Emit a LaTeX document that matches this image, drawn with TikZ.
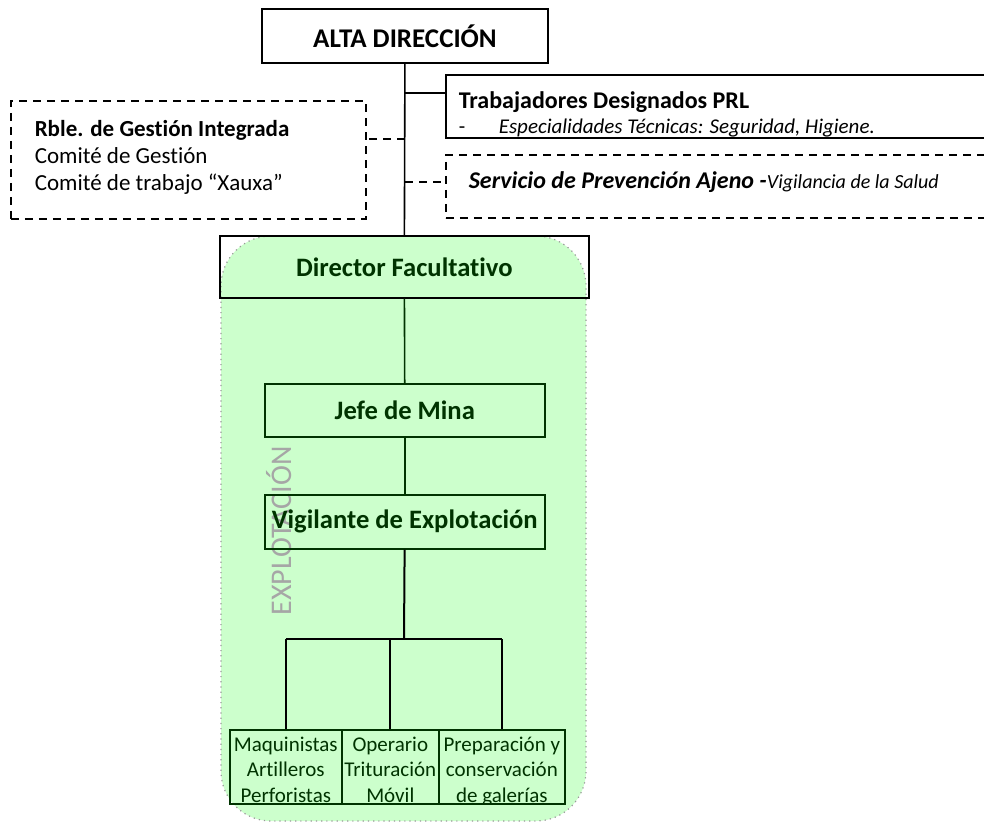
\documentclass[tikz,border=0pt]{standalone}
\usepackage{fontspec}
\setmainfont{Carlito}[Ligatures={NoCommon}]
\usetikzlibrary{positioning}
\definecolor{verdeclaro}{HTML}{CCFFCC}
\definecolor{verdeosc}{HTML}{003300}
\definecolor{grisborde}{HTML}{999999}
\definecolor{gristexto}{HTML}{A6A6A6}
\tikzset{
  caja/.style={draw,inner sep=0pt},
  cajaverde/.style={draw=verdeosc,inner sep=0pt,text=verdeosc,font=\fontsize{13.3}{16}\selectfont\bfseries},
  discont/.style={draw,dash pattern=on 4pt off 3pt,inner sep=0pt},
  rama/.style={draw=verdeosc,inner sep=0pt}
}
\begin{document}
\begin{tikzpicture}[x=0.5pt,y=-0.5pt,line width=0.8pt]
\useasboundingbox (0,0) rectangle (984,825);
% zona de explotacion
\draw[fill=verdeclaro,draw=grisborde,line width=0.6pt,dotted,rounded corners=25pt] (221,236) rectangle (586,821);
\node[text=gristexto,rotate=90,font=\fontsize{15}{17}\selectfont] (zona) at (279,531) {EXPLOTACIÓN};
% cajas
\node[caja,minimum width=143pt,minimum height=27pt,font=\fontsize{13.5}{16}\selectfont\bfseries] (alta) at (405,36) {ALTA DIRECCIÓN};
\node[caja,anchor=north west,minimum width=280pt,minimum height=31.5pt] (trab) at (445,74) {};
\node[discont,anchor=north west,minimum width=177.5pt,minimum height=59pt] (rble) at (10,100) {};
\node[discont,anchor=north west,minimum width=280pt,minimum height=31.5pt] (spa) at (445,154) {};
\node[caja,anchor=north west,minimum width=184.5pt,minimum height=31pt,text=verdeosc,font=\fontsize{13.3}{16}\selectfont\bfseries] (dir) at (219,235) {Director Facultativo};
\node[cajaverde,anchor=north west,minimum width=140pt,minimum height=26.5pt] (jefe) at (264,383) {Jefe de Mina};
\node[cajaverde,anchor=north west,minimum width=140pt,minimum height=27pt] (vig) at (264,494) {Vigilante de Explotación};
\node[rama,anchor=north west,minimum width=56pt,minimum height=37pt] (maq) at (229,729) {};
\node[rama,anchor=north west,minimum width=48.5pt,minimum height=37pt] (ope) at (341,729) {};
\node[rama,anchor=north west,minimum width=63pt,minimum height=37pt] (pre) at (438,729) {};
% textos
\begin{scope}
\clip (trab.south west) rectangle (trab.north east);
\node[anchor=base west,inner sep=0pt,font=\fontsize{12}{14}\selectfont\bfseries] (trabt) at (458,108) {Trabajadores Designados PRL};
\node[anchor=base west,inner sep=0pt,font=\fontsize{10.5}{12}\selectfont] (guion) at (458,133) {-};
\node[anchor=base west,inner sep=0pt,font=\fontsize{10.5}{12}\selectfont\itshape] (espec) at (498,133) {Especialidades Técnicas: Seguridad, Higiene.};
\end{scope}
\node[anchor=north west,align=left,inner sep=0pt,font=\fontsize{11.5}{13.5}\selectfont] (rblet) at (34,120)
  {\textbf{Rble. de Gestión Integrada}\\Comité de Gestión\\Comité de trabajo “Xauxa”};
\node[anchor=base west,inner sep=0pt,font=\fontsize{12}{14}\selectfont] (spat) at (468,188)
  {\textbf{\itshape Servicio de Prevención Ajeno -}{\fontsize{10}{12}\selectfont\itshape Vigilancia de la Salud}};
\begin{scope}
\clip (maq.north west) rectangle (pre.south east);
\foreach \n/\t in {maq/{Maquinistas\\Artilleros\\Perforistas},ope/{Operario\\Trituración\\Móvil},pre/{Preparación y\\conservación\\de galerías}}
  \node[anchor=base,align=center,inner sep=0pt,text=verdeosc,font=\fontsize{10.5}{12.75}\selectfont] (\n t) at (\n.north |- 0,802) {\t};
\end{scope}
% conectores
\coordinate (b1) at (405,93);
\coordinate (b2) at (405,139);
\coordinate (b3) at (405,182);
\draw (alta) -- (dir);
\draw (b1) -- (b1 -| trab.west);
\draw[dash pattern=on 4pt off 3pt] (b2) -- (b2 -| rble.east);
\draw[dash pattern=on 4pt off 3pt] (b3) -- (b3 -| spa.west);
\draw[verdeosc] (dir) -- (jefe);
\draw[verdeosc] (jefe) -- (vig);
\coordinate (bus) at (404,639);
\draw[line width=1pt] (vig) -- (bus);
\draw[line width=1pt] (bus -| maq) -- (bus -| pre);
\foreach \n in {maq,ope,pre}
  \draw[line width=1pt] (bus -| \n) -- (\n);
\end{tikzpicture}
\end{document}
